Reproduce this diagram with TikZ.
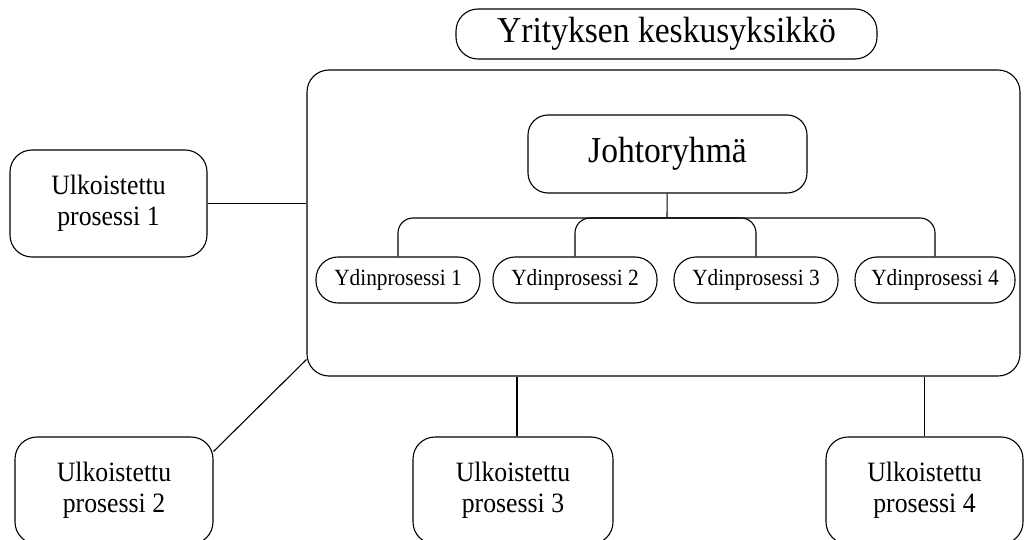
\documentclass[tikz,border=0pt]{standalone}
\usepackage{fontspec}
\setmainfont{Liberation Serif}[FakeStretch=0.92]
\usetikzlibrary{calc}
\begin{document}
\begin{tikzpicture}[x=1pt,y=-1pt,
  line width=1.1pt,
  box/.style={draw, rounded corners=#1, inner sep=0pt, align=center},
  box/.default=20pt,
  titlefont/.style={font=\fontsize{36.5}{42}\selectfont},
  corebox/.style={box=22pt, minimum width=164pt, minimum height=46pt,
                  font=\fontsize{23.2}{27}\selectfont},
  outbox/.style={box=22pt, minimum width=197pt, minimum height=107pt,
                 font=\fontsize{28}{30.5}\selectfont},
  link/.style={draw, line width=1.1pt}]
\useasboundingbox (0,0) rectangle (1025,540);
\clip (0,0) rectangle (1025,540);

% central unit and its title
\node[box=22pt, minimum width=421pt, minimum height=50pt, titlefont] (hq) at (666.5,34) {Yrityksen keskusyksikkö};
\node[box=22pt, minimum width=713pt, minimum height=306pt] (unit) at (663.5,223) {};

% management team and core processes
\node[box=20pt, minimum width=279pt, minimum height=78pt, titlefont] (j) at (667.5,154) {Johtoryhmä};
\node[corebox] (y1) at (398,280) {Ydinprosessi 1};
\node[corebox] (y2) at (575,280) {Ydinprosessi 2};
\node[corebox] (y3) at (756,280) {Ydinprosessi 3};
\node[corebox, minimum width=160pt] (y4) at (935,280) {Ydinprosessi 4};

\coordinate (jt) at (667,218);
\draw[link] (j) -- (jt);
\draw[link, rounded corners=15pt] (y1.north) |- (jt) -| (y4.north);
\draw[link, rounded corners=15pt] (y2.north) |- (jt) -| (y3.north);

% outsourced processes
\node[outbox] (u1) at (108.5,203.5) {Ulkoistettu\\prosessi 1};
\node[outbox, minimum width=198pt] (u2) at (114,490.5) {Ulkoistettu\\prosessi 2};
\node[outbox, minimum width=200pt] (u3) at (513,490.5) {Ulkoistettu\\prosessi 3};
\node[outbox] (u4) at (924.5,490.5) {Ulkoistettu\\prosessi 4};

\draw[link] (u1) -- (u1 -| unit.west);
\draw[link] ($(u2.north east)+(0,15)$) -- ($(unit.south west)+(0,-17)$);
\draw[link] ($(u3.north)+(4,0)$) -- ($(u3.north |- unit.south)+(4,0)$);
\draw[link] (u4) -- (u4 |- unit.south);
\end{tikzpicture}
\end{document}
